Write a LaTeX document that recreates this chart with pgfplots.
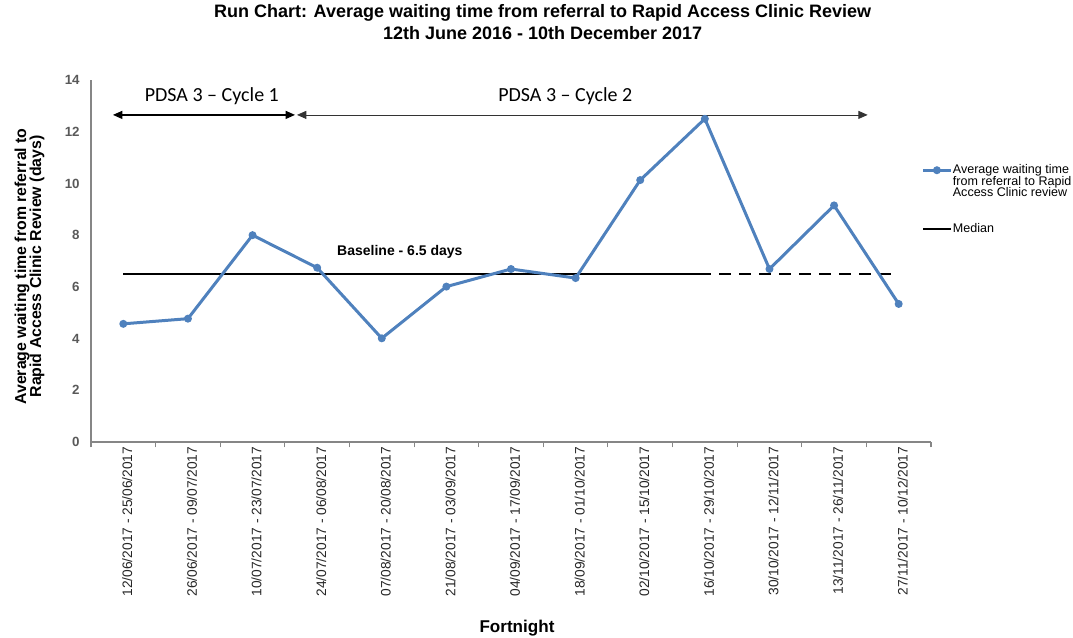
\documentclass[border=0pt]{standalone}
\usepackage{pgfplots}
\pgfplotsset{compat=1.18}
\usepackage{fontspec}
\setmainfont{Liberation Sans}
\newfontfamily\calibri{Carlito}
\usetikzlibrary{arrows.meta}
\definecolor{serblue}{HTML}{4F81BD}
\definecolor{axgray}{HTML}{868686}
\definecolor{tickgray}{HTML}{595959}
\newcommand{\lt}[1]{\smash{#1}\rule[-2.4pt]{0pt}{9.5pt}}
\begin{document}
\begin{tikzpicture}
\begin{axis}[
  at={(68.25pt,146.25pt)}, anchor=south west,
  scale only axis, width=630pt, height=271.5pt,
  xmin=0.5, xmax=13.5, ymin=0, ymax=14,
  clip=false,
  axis x line*=bottom, axis y line*=left,
  axis line style={draw=axgray, line width=0.8pt},
  xtick={1,...,13},
  xticklabels={12/06/2017 - 25/06/2017, 26/06/2017 - 09/07/2017, 10/07/2017 - 23/07/2017, 24/07/2017 - 06/08/2017, 07/08/2017 - 20/08/2017, 21/08/2017 - 03/09/2017, 04/09/2017 - 17/09/2017, 18/09/2017 - 01/10/2017, 02/10/2017 - 15/10/2017, 16/10/2017 - 29/10/2017, 30/10/2017 - 12/11/2017, 13/11/2017 - 26/11/2017, 27/11/2017 - 10/12/2017},
  minor xtick={0.5,1.5,...,13.5},
  major tick length=0pt, minor tick length=4pt,
  tick align=outside,
  minor tick style={draw=axgray, line width=0.8pt},
  ytick={0,2,...,14},
  /pgf/number format/assume math mode=true,
  x tick label style={rotate=90, anchor=east, font=\fontsize{10.3}{11}\selectfont, text=black!85, yshift=-3pt},
  y tick label style={font=\bfseries\fontsize{10}{12}\selectfont, text=tickgray, xshift=-5pt},
  legend style={at={(rel axis cs:0.989,0.7666)}, anchor=north west, draw=none, fill=none,
    inner sep=0pt, outer sep=0pt, row sep=0pt, column sep=0pt,
    font=\fontsize{9.4}{9}\selectfont, nodes={inner ysep=0pt, inner xsep=0.6pt}},
  legend cell align=left,
  legend image code/.code={\draw[mark repeat=2,mark phase=2,#1] plot coordinates {(0cm,0cm) (0.36cm,0cm) (0.72cm,0cm)};},
]
\addlegendimage{serblue, line width=2.25pt, mark=*, mark size=1.8pt, mark options={fill=serblue, draw=serblue}}
\addlegendentry{\lt{Average waiting time}}
\addlegendimage{empty legend}
\addlegendentry{\lt{from referral to Rapid}}
\addlegendimage{empty legend}
\addlegendentry{\lt{Access Clinic review}}
\addlegendimage{empty legend}
\addlegendentry{\rule{0pt}{16.6pt}}
\addlegendimage{black, line width=1.5pt}
\addlegendentry{\lt{Median}}
\addplot[black, line width=1.5pt, forget plot] coordinates {(1,6.5) (10.1,6.5)};
\addplot[black, line width=1.5pt, dash pattern=on 9pt off 6pt, forget plot] coordinates {(10.22,6.5) (13,6.5)};
\addplot[serblue, line width=2.25pt, mark=*, mark size=1.8pt, mark options={fill=serblue, draw=serblue}, forget plot] coordinates {
 (1,4.57) (2,4.77) (3,8.0) (4,6.74) (5,4.01) (6,6.01) (7,6.69) (8,6.34) (9,10.13) (10,12.5) (11,6.69) (12,9.15) (13,5.34)};
\draw[{Triangle[length=7pt,width=6pt]}-{Triangle[length=7pt,width=6pt]}, line width=0.9pt, black] (axis cs:0.84,12.65) -- (axis cs:3.657,12.65);
\draw[{Triangle[length=7pt,width=6pt]}-{Triangle[length=7pt,width=6pt]}, line width=0.6pt, black!80] (axis cs:3.688,12.65) -- (axis cs:12.52,12.65);
\node[font=\calibri\fontsize{15}{18}\selectfont] at (axis cs:2.37,13.38) {PDSA 3 – Cycle 1};
\node[font=\calibri\fontsize{15}{18}\selectfont] at (axis cs:7.84,13.38) {PDSA 3 – Cycle 2};
\node[font=\bfseries\fontsize{10.5}{12}\selectfont] at (axis cs:5.28,7.35) {Baseline - 6.5 days};
\end{axis}
\node[font=\bfseries\fontsize{13.5}{16.5}\selectfont, align=center] at (407pt,461.25pt) {Run Chart: Average waiting time from referral to Rapid Access Clinic Review\\12th June 2016 - 10th December 2017};
\node[font=\bfseries\fontsize{12.8}{14}\selectfont] at (387.75pt,6.75pt) {Fortnight};
\node[font=\bfseries\fontsize{11.9}{11.25}\selectfont, align=center, rotate=90] at (22.1pt,277.9pt) {Average waiting time from referral to\\Rapid Access Clinic Review (days)};
\pgfresetboundingbox
\path[use as bounding box] (0,0) rectangle (804.75pt,477.75pt);
\end{tikzpicture}
\end{document}
